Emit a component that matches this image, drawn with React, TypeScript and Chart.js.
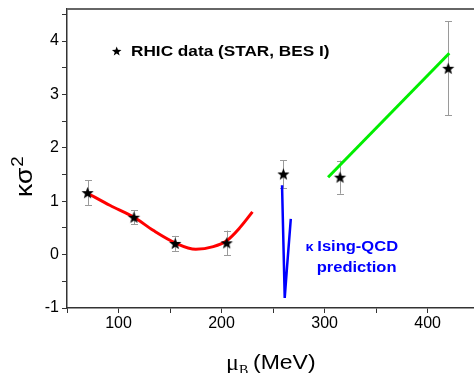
import React, { useEffect, useRef } from 'react';
import { Chart, registerables } from 'chart.js';
Chart.register(...registerables);

// RHIC data (STAR, BES I)
const dataMuB = [70, 115, 155, 205, 260, 315, 420];
const dataKappa = [1.16, 0.70, 0.21, 0.22, 1.51, 1.45, 3.49];
const dataErr = [0.23, 0.13, 0.14, 0.23, 0.26, 0.31, 0.88];
// red fit curve
const redMuB = [70, 92, 115, 134, 155, 175, 192, 205, 218, 230];
const redKappa = [1.15, 0.92, 0.70, 0.45, 0.22, 0.10, 0.15, 0.26, 0.51, 0.80];
// green line
const greenMuB = [303.4, 421];
const greenKappa = [1.45, 3.77];
// blue Ising-QCD prediction
const blueMuB = [258.7, 261.3, 263.6, 267.2];
const blueKappa = [1.30, -0.81, -0.22, 0.67];
// tick labels
const xTickLabels = [100, 200, 300, 400];
const yTickLabels = [-1, 0, 1, 2, 3, 4];

const SANS = '"Liberation Sans", Arial, sans-serif';
const SERIF = '"Liberation Serif", "Times New Roman", serif';

function makeStar(r: number, color: string) {
  const s = Math.ceil(r * 2 + 2);
  const c = document.createElement('canvas');
  c.width = s;
  c.height = s;
  const ctx = c.getContext('2d')!;
  ctx.fillStyle = color;
  ctx.beginPath();
  for (let i = 0; i < 10; i++) {
    const rad = i % 2 === 0 ? r : r * 0.42;
    const a = -Math.PI / 2 + (i * Math.PI) / 5;
    const x = s / 2 + rad * Math.cos(a);
    const y = s / 2 + 0.6 + rad * Math.sin(a);
    if (i === 0) ctx.moveTo(x, y);
    else ctx.lineTo(x, y);
  }
  ctx.closePath();
  ctx.fill();
  return c;
}

function drawStarAt(ctx: CanvasRenderingContext2D, cx: number, cy: number, r: number) {
  ctx.beginPath();
  for (let i = 0; i < 10; i++) {
    const rad = i % 2 === 0 ? r : r * 0.42;
    const a = -Math.PI / 2 + (i * Math.PI) / 5;
    const x = cx + rad * Math.cos(a);
    const y = cy + rad * Math.sin(a);
    if (i === 0) ctx.moveTo(x, y);
    else ctx.lineTo(x, y);
  }
  ctx.closePath();
  ctx.fill();
}

const errorBarPlugin = {
  id: 'errorBars',
  beforeDatasetsDraw(chart: any) {
    const ctx = chart.ctx;
    const xs = chart.scales.x;
    const ys = chart.scales.y;
    ctx.save();
    ctx.strokeStyle = '#9a9a9a';
    ctx.lineWidth = 1;
    dataMuB.forEach((m, i) => {
      const x = Math.round(xs.getPixelForValue(m)) + 0.5;
      const yt = ys.getPixelForValue(dataKappa[i] + dataErr[i]);
      const yb = ys.getPixelForValue(dataKappa[i] - dataErr[i]);
      ctx.beginPath();
      ctx.moveTo(x, yt);
      ctx.lineTo(x, yb);
      ctx.moveTo(x - 3.5, Math.round(yt) + 0.5);
      ctx.lineTo(x + 3.5, Math.round(yt) + 0.5);
      ctx.moveTo(x - 3.5, Math.round(yb) + 0.5);
      ctx.lineTo(x + 3.5, Math.round(yb) + 0.5);
      ctx.stroke();
    });
    ctx.restore();
  },
};

const decorPlugin = {
  id: 'decor',
  afterDraw(chart: any) {
    const ctx = chart.ctx as CanvasRenderingContext2D;
    const area = chart.chartArea;
    ctx.save();
    // top border
    ctx.strokeStyle = '#666666';
    ctx.lineWidth = 2;
    ctx.beginPath();
    ctx.moveTo(area.left, area.top);
    ctx.lineTo(chart.width, area.top);
    ctx.stroke();

    // legend-like annotation
    ctx.fillStyle = '#000';
    drawStarAt(ctx, 116.7, 51.5, 5);
    ctx.textBaseline = 'alphabetic';
    ctx.textAlign = 'left';
    ctx.save();
    ctx.translate(131, 56);
    ctx.scale(1.11, 1);
    ctx.font = `bold 15.5px ${SANS}`;
    ctx.fillText('RHIC data (STAR, BES I)', 0, 0);
    ctx.restore();

    // blue annotation
    ctx.fillStyle = '#0000ff';
    ctx.save();
    ctx.translate(305.5, 250.7);
    ctx.scale(1.2, 1);
    ctx.font = `bold 12px ${SANS}`;
    ctx.fillText('\u03ba', 0, 0);
    ctx.restore();
    ctx.save();
    ctx.translate(317.3, 250.7);
    ctx.scale(1.18, 1);
    ctx.font = `bold 14px ${SANS}`;
    ctx.fillText('Ising-QCD', 0, 0);
    ctx.restore();
    ctx.save();
    ctx.translate(316.7, 271.5);
    ctx.scale(1.18, 1);
    ctx.font = `bold 14px ${SANS}`;
    ctx.fillText('prediction', 0, 0);
    ctx.restore();

    // x axis title
    ctx.fillStyle = '#000';
    ctx.font = `24px ${SERIF}`;
    ctx.fillText('\u03bc', 226, 369.5);
    ctx.font = `14px ${SERIF}`;
    ctx.fillText('B', 239, 375);
    ctx.save();
    ctx.translate(253, 369.3);
    ctx.scale(1.15, 1);
    ctx.font = `20px ${SANS}`;
    ctx.fillText('(MeV)', 0, 0);
    ctx.restore();

    // y axis title
    ctx.save();
    ctx.translate(32, 197);
    ctx.rotate(-Math.PI / 2);
    ctx.scale(1.1, 1);
    ctx.font = `24px ${SANS}`;
    ctx.fillText('\u03ba\u03c3', 0, 0);
    const w = ctx.measureText('\u03ba\u03c3').width;
    ctx.font = `17px ${SANS}`;
    ctx.fillText('2', w + 1, -9);
    ctx.restore();

    ctx.restore();
  },
};

const noPad = (s: any) => {
  s.paddingTop = 0;
  s.paddingBottom = 0;
  s.paddingLeft = 0;
  s.paddingRight = 0;
};

export default function App() {
  const ref = useRef<HTMLCanvasElement | null>(null);
  useEffect(() => {
    if (!ref.current) return;
    Chart.defaults.font.family = SANS;
    const star = makeStar(6.4, '#000');
    const chart = new Chart(ref.current, {
      type: 'scatter',
      data: {
        datasets: [
          {
            label: 'RHIC data',
            data: dataMuB.map((m, i) => ({ x: m, y: dataKappa[i] })),
            pointStyle: star as any,
            pointRadius: 6,
            showLine: false,
            order: 0,
          },
          {
            label: 'red',
            data: redMuB.map((m, i) => ({ x: m, y: redKappa[i] })),
            showLine: true,
            borderColor: '#ff0000',
            borderWidth: 3,
            pointRadius: 0,
            tension: 0.4,
            cubicInterpolationMode: 'monotone',
            order: 1,
          },
          {
            label: 'green',
            data: greenMuB.map((m, i) => ({ x: m, y: greenKappa[i] })),
            showLine: true,
            borderColor: '#00ee00',
            borderWidth: 3,
            pointRadius: 0,
            order: 1,
          },
          {
            label: 'blue',
            data: blueMuB.map((m, i) => ({ x: m, y: blueKappa[i] })),
            showLine: true,
            borderColor: '#0000ff',
            borderWidth: 2.5,
            pointRadius: 0,
            tension: 0,
            order: 1,
          },
        ],
      },
      options: {
        animation: false,
        responsive: false,
        devicePixelRatio: 1,
        layout: { autoPadding: false, padding: { top: 9, right: 0, left: 0, bottom: 0 } },
        plugins: { legend: { display: false }, tooltip: { enabled: false } },
        scales: {
          x: {
            type: 'linear',
            min: 50,
            max: 445,
            afterFit: (s: any) => {
              s.height = 65;
              noPad(s);
            },
            ticks: {
              stepSize: 50,
              includeBounds: false,
              autoSkip: false,
              maxRotation: 0,
              padding: 1,
              color: '#000',
              font: { size: 16, family: SANS },
              callback: (v: any) => (xTickLabels.includes(Number(v)) ? String(v) : ''),
            },
            grid: { drawOnChartArea: false, drawTicks: true, tickLength: 5, tickColor: '#333' },
            border: { display: true, color: '#333', width: 1.5 },
          },
          y: {
            type: 'linear',
            min: -1,
            max: 4.6,
            afterFit: (s: any) => {
              s.width = 67;
              noPad(s);
            },
            ticks: {
              stepSize: 0.5,
              includeBounds: false,
              autoSkip: false,
              padding: 3,
              color: '#000',
              font: { size: 16, family: SANS },
              callback: (v: any) => (yTickLabels.includes(Number(v)) ? String(v) : ''),
            },
            grid: { drawOnChartArea: false, drawTicks: true, tickLength: 5, tickColor: '#333' },
            border: { display: true, color: '#333', width: 1.5 },
          },
        },
      },
      plugins: [errorBarPlugin, decorPlugin],
    });
    return () => chart.destroy();
  }, []);
  return (
    <div style={{ position: 'absolute', left: 0, top: 0, width: 474, height: 373, background: '#fff' }}>
      <canvas ref={ref} width={474} height={373} style={{ display: 'block' }} />
    </div>
  );
}
